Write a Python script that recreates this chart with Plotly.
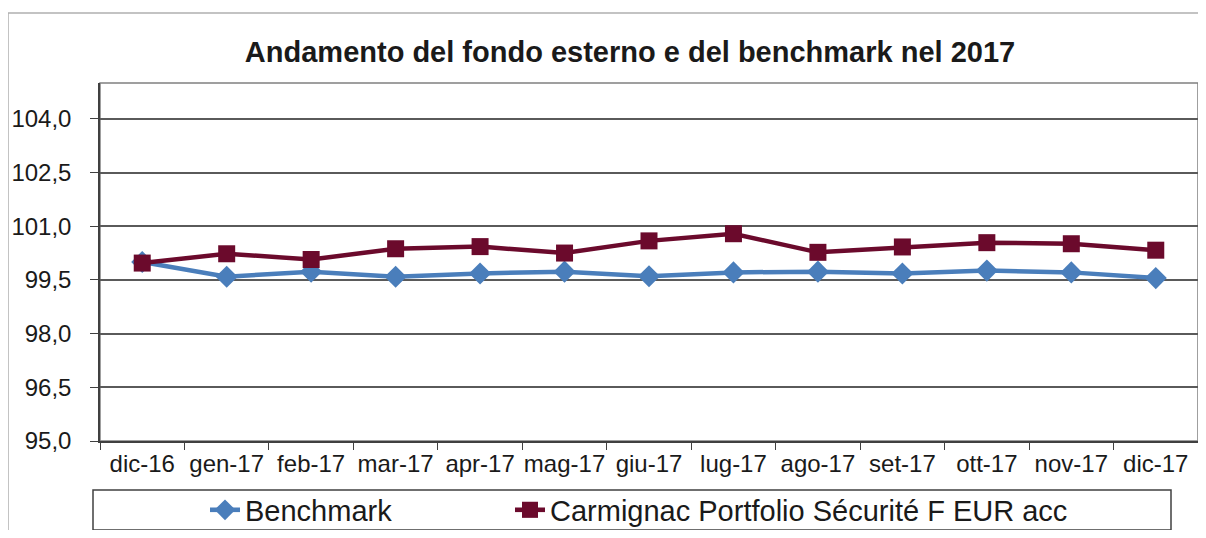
import plotly.graph_objects as go

categories = ["dic-16", "gen-17", "feb-17", "mar-17", "apr-17", "mag-17", "giu-17",
              "lug-17", "ago-17", "set-17", "ott-17", "nov-17", "dic-17"]
benchmark = [100.0, 99.59, 99.73, 99.59, 99.68, 99.73, 99.60, 99.71, 99.73, 99.68, 99.76, 99.71, 99.55]
carmignac = [99.97, 100.23, 100.07, 100.37, 100.43, 100.25, 100.59, 100.79, 100.27, 100.42, 100.54, 100.51, 100.33]
y_ticks = [95.0, 96.5, 98.0, 99.5, 101.0, 102.5, 104.0]

# page body has an 8px margin: the figure is sized to fit the window
OFF = 8
W, H = 1206 - 2 * OFF, 538 - 2 * OFF
L, T = 100 - OFF, 83 - OFF
R = 0
B = H - (441 - OFF)
FONT = "Arial, Liberation Sans, sans-serif"

pw = W - L - R
ph = H - T - B

def px(x):  # page x -> paper
    return (x - OFF - L) / pw

def py(y):  # page y -> paper
    return 1 - (y - OFF - T) / ph

fig = go.Figure()
fig.add_trace(go.Scatter(
    x=categories, y=benchmark, name="Benchmark", mode="lines+markers",
    line=dict(color="#4A7EBB", width=4.5),
    marker=dict(symbol="diamond", size=17, color="#4A7EBB"),
    legend="legend",
))
fig.add_trace(go.Scatter(
    x=categories, y=carmignac, name="Carmignac Portfolio Sécurité F EUR acc", mode="lines+markers",
    line=dict(color="#6B0A2C", width=4.5),
    marker=dict(symbol="square", size=17, color="#6B0A2C"),
    legend="legend2",
))

shapes = [
    dict(type="rect", xref="paper", yref="paper", x0=px(8), x1=px(1230), y0=py(13), y1=py(560),
         line=dict(color="#B0B0B0", width=1.5), layer="below"),
    dict(type="rect", xref="paper", yref="paper", x0=0, x1=1, y0=0, y1=1,
         line=dict(color="#808080", width=1.5), layer="below"),
    dict(type="rect", xref="paper", yref="paper", x0=px(93), x1=px(1171), y0=py(490), y1=py(530),
         line=dict(color="#404040", width=1.5)),
]

leg_common = dict(orientation="h", xref="paper", yref="paper", yanchor="middle",
                  xanchor="left", font=dict(size=29, family=FONT, color="#1A1A1A"),
                  bgcolor="rgba(0,0,0,0)", borderwidth=0)

fig.update_layout(
    width=W, height=H,
    margin=dict(l=L, r=R, t=T, b=B, autoexpand=False),
    paper_bgcolor="white", plot_bgcolor="white",
    separators=",.",
    font=dict(family=FONT, color="#1A1A1A", size=24),
    title=dict(text="<b>Andamento del fondo esterno e del benchmark nel 2017</b>",
               x=(630 - OFF) / W, xanchor="center", xref="container",
               y=1 - (52 - OFF) / H, yanchor="middle", yref="container",
               font=dict(size=29, family=FONT, color="#1A1A1A")),
    showlegend=True,
    legend=dict(x=px(205), y=py(510), **leg_common),
    legend2=dict(x=px(510), y=py(510), **leg_common),
    shapes=shapes,
)

fig.update_xaxes(
    type="category", tickson="boundaries", ticks="outside", ticklen=7, tickcolor="#404040",
    showline=True, linecolor="#404040", linewidth=1.5, showgrid=False, automargin=False,
    tickangle=0, tickfont=dict(size=24, family=FONT), range=[-0.5, len(categories) - 0.5],
)
fig.update_yaxes(
    range=[95, 105], tickvals=y_ticks, tickformat=".1f", ticks="outside", ticklen=8,
    tickcolor="#404040", showline=True, linecolor="#404040", linewidth=1.5, automargin=False,
    showgrid=True, gridcolor="#5A5A5A", gridwidth=1.5, zeroline=False,
    tickfont=dict(size=24, family=FONT), ticklabelstandoff=14,
)

fig.write_html("out.html")
